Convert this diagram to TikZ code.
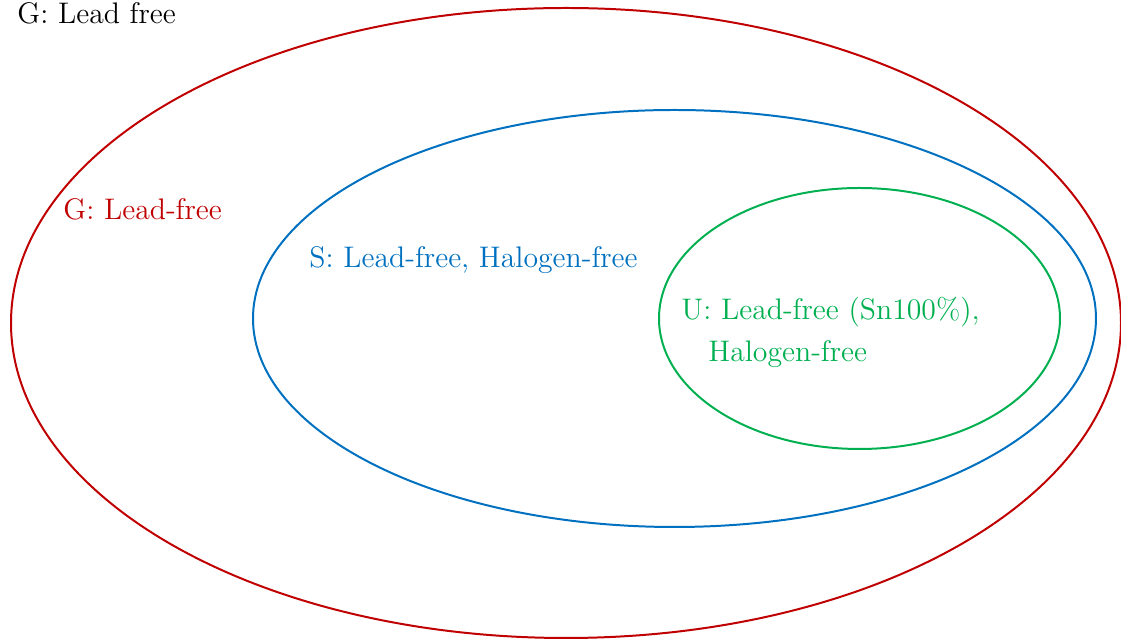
\documentclass[tikz,border=0pt]{standalone}
\usetikzlibrary{positioning}
\definecolor{gred}{HTML}{C00000}
\definecolor{sblue}{HTML}{0070C0}
\definecolor{ugreen}{HTML}{00B050}
\tikzset{
    setline/.style={line width=0.85pt},
    setlabel/.style={anchor=base west, inner sep=0pt, font=\fontsize{12.7}{15}\selectfont}
}

\begin{document}
\begin{tikzpicture}[x=0.015cm,y=-0.015cm]
        \useasboundingbox (0,0) rectangle (1121,640);

        % Title
        \node[setlabel] (title) at (17,24) {G: Lead free};

        % Sets
        \draw[setline,gred] (566,323) ellipse (555 and 315);
        \draw[setline,sblue] (674.5,318.5) ellipse (421.5 and 208.5);
        \draw[setline,ugreen] (859.5,318.5) ellipse (200.5 and 130.5);

        % Labels
        \node[setlabel,gred] (glabel) at (63,220) {G: Lead-free};
        \node[setlabel,sblue] (slabel) at (309,268) {S: Lead-free, Halogen-free};
        \node[setlabel,ugreen] (ulabel) at (681,320) {U: Lead-free (Sn100\%),};
        \node[setlabel,ugreen] (ulabelb) at (708,362) {Halogen-free};
    \end{tikzpicture}
\end{document}
